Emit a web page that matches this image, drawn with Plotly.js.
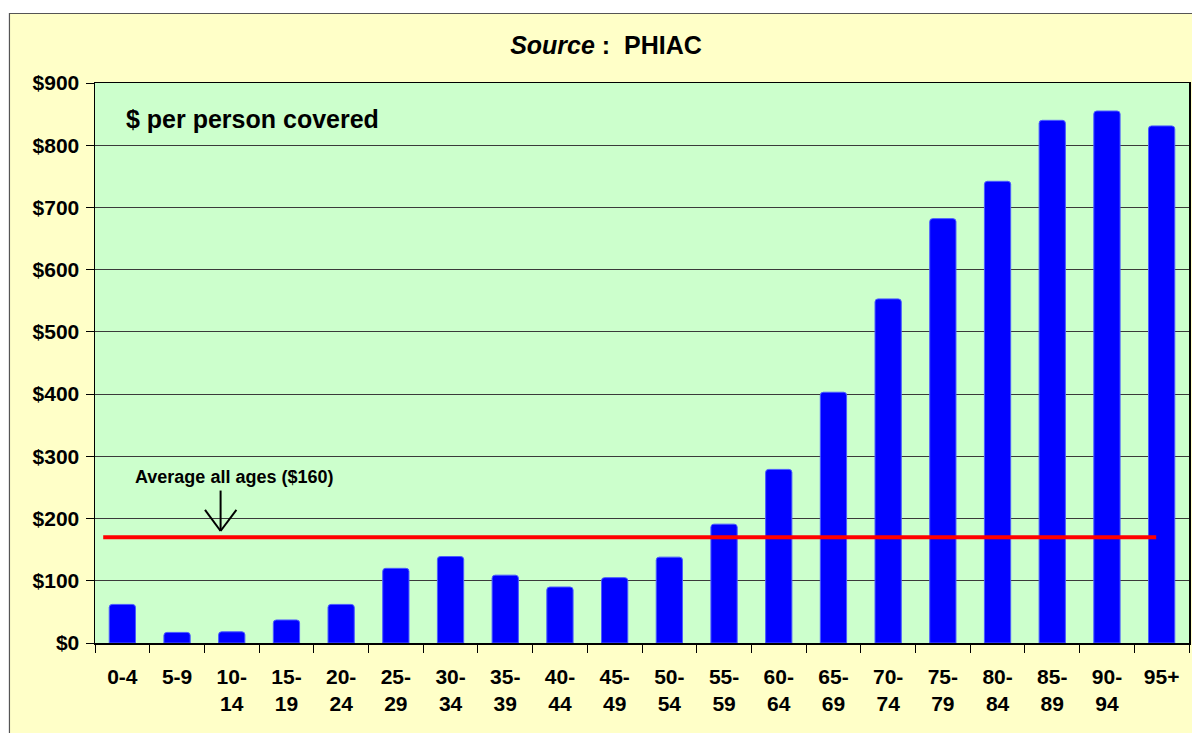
<!DOCTYPE html>
<html>
<head>
<meta charset="utf-8">
<script src="https://cdn.plot.ly/plotly-3.0.1.min.js"></script>
<style>html,body{margin:0;padding:0;background:#fff;}#chart{width:1192px;height:733px;}</style>
</head>
<body>
<div id="chart"></div>
<script>
// Age groups (tick labels, two-line where the original wraps)
const ageGroups = ["0-4","5-9","10-<br>14","15-<br>19","20-<br>24","25-<br>29","30-<br>34","35-<br>39","40-<br>44","45-<br>49",
                   "50-<br>54","55-<br>59","60-<br>64","65-<br>69","70-<br>74","75-<br>79","80-<br>84","85-<br>89","90-<br>94","95+"];
// $ per person covered
const costPerPerson = [62, 17, 18, 37, 62, 120, 139, 109, 90, 105, 138, 191, 279, 403, 553, 682, 742, 840, 855, 831];
// Average line as drawn
const averageLine = [170];
const averageLabel = ["Average all ages ($160)"];
const yTickVals = [0,100,200,300,400,500,600,700,800,900];
const yTickText = ["$0","$100","$200","$300","$400","$500","$600","$700","$800","$900"];

const FONT = "Arial, 'Liberation Sans', sans-serif";

const traces = [{
  type: 'bar',
  x: ageGroups,
  y: costPerPerson,
  marker: {color: '#0000FF', line: {color: '#4a5cff', width: 1}, cornerradius: 3},
  hoverinfo: 'x+y'
}];

const avg = averageLine[0];
const layout = {
  width: 1192, height: 733, autosize: false,
  margin: {l: 95, r: 3, t: 83, b: 90, pad: 0},
  paper_bgcolor: '#FFFFC8',
  plot_bgcolor: '#CCFFCC',
  showlegend: false,
  bargap: 0.52,
  title: {
    text: '<i>Source</i> :&nbsp; PHIAC',
    x: 606/1192, xanchor: 'center', xref: 'container',
    y: 1 - 45/733, yanchor: 'middle', yref: 'container',
    font: {family: FONT, size: 25, color: '#000', weight: 'bold'}
  },
  xaxis: {
    type: 'category',
    tickson: 'boundaries',
    ticks: 'outside', ticklen: 8, tickwidth: 1, tickcolor: '#000',
    showgrid: false,
    showline: true, linecolor: '#000', linewidth: 1.5, mirror: true,
    tickfont: {family: FONT, size: 21, color: '#000', weight: 'bold'},
    ticklabelstandoff: 14,
    range: [-0.5, 19.5],
    fixedrange: true
  },
  yaxis: {
    range: [0, 900],
    tickmode: 'array', tickvals: yTickVals, ticktext: yTickText,
    ticks: 'outside', ticklen: 8, tickwidth: 1, tickcolor: '#000',
    showgrid: true, gridcolor: '#3a3a3a', gridwidth: 1,
    zeroline: false,
    showline: true, linecolor: '#000', linewidth: 1.5, mirror: true,
    tickfont: {family: FONT, size: 21, color: '#000', weight: 'bold'},
    ticklabelstandoff: 2,
    fixedrange: true
  },
  shapes: [
    // white outer margin strips
    {type: 'rect', xref: 'paper', yref: 'paper', x0: -0.1, x1: -0.0782, y0: -0.2, y1: 1.2, fillcolor: '#fff', line: {width: 0}, layer: 'below'},
    {type: 'rect', xref: 'paper', yref: 'paper', x0: -0.1, x1: 1.1, y0: 1.1241, y1: 1.2, fillcolor: '#fff', line: {width: 0}, layer: 'below'},
    // outer frame
    {type: 'rect', xref: 'paper', yref: 'paper', x0: -0.0782, x1: 1.1, y0: -0.3, y1: 1.1241, fillcolor: 'rgba(0,0,0,0)', line: {color: '#555', width: 1.2}, layer: 'below'},
    // average line
    {type: 'line', xref: 'x', yref: 'y', x0: -0.35, x1: 18.9, y0: avg, y1: avg, line: {color: '#FF0000', width: 4}, layer: 'above'},
    // arrow shaft and head
    {type: 'line', xref: 'x', yref: 'y', x0: 1.796, x1: 1.796, y0: 245, y1: 180, line: {color: '#000', width: 2}, layer: 'above'},
    {type: 'line', xref: 'x', yref: 'y', x0: 1.511, x1: 1.796, y0: 214, y1: 180, line: {color: '#000', width: 2}, layer: 'above'},
    {type: 'line', xref: 'x', yref: 'y', x0: 2.085, x1: 1.796, y0: 214, y1: 180, line: {color: '#000', width: 2}, layer: 'above'}
  ],
  annotations: [
    {text: '$ per person covered', xref: 'paper', yref: 'paper', x: 0.1444, y: 0.9357, xanchor: 'center', yanchor: 'middle',
     showarrow: false, font: {family: FONT, size: 25, color: '#000', weight: 'bold'}},
    {text: averageLabel[0], xref: 'paper', yref: 'paper', x: 0.127, y: 0.2964, xanchor: 'center', yanchor: 'middle',
     showarrow: false, font: {family: FONT, size: 18, color: '#000', weight: 'bold'}}
  ]
};

Plotly.newPlot('chart', traces, layout, {displayModeBar: false, staticPlot: true});
</script>
</body>
</html>
